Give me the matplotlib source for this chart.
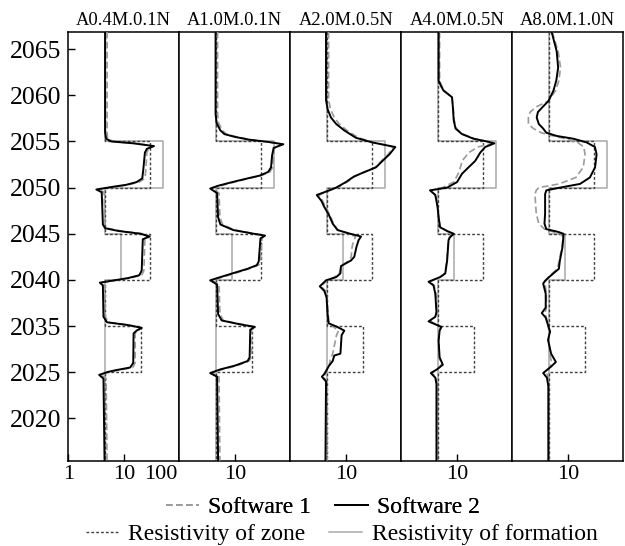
import matplotlib
matplotlib.use("Agg")
import matplotlib.pyplot as plt
import matplotlib.transforms as mtransforms
from matplotlib.lines import Line2D

plt.rcParams['font.family'] = ['Liberation Serif', 'DejaVu Serif']

# ---------------- data ----------------
titles = ["A0.4M.0.1N", "A1.0M.0.1N", "A2.0M.0.5N", "A4.0M.0.5N", "A8.0M.1.0N"]
ytick_pos = [2065, 2060, 2055, 2050, 2045, 2040, 2035, 2030, 2025]
ytick_labels = ["2065", "2060", "2055", "2050", "2045", "2040", "2035", "2025", "2020"]
depth_top = 2066.9
depth_bottom = 2020.4

shoulder_res = 4.5
zone_top = [2055, 2045, 2035]
zone_base = [2050, 2040, 2030]
formation_res = [50, 9, 4.5]
zone_res = [30, 30, 20]

p1_depth = [2066.9, 2056.0, 2055.3, 2055.0, 2054.8, 2054.5, 2054.2, 2053.8, 2052.0, 2051.0,
            2050.6, 2050.3, 2050.1, 2049.8, 2049.5, 2046.0, 2045.6, 2045.3, 2045.0, 2044.7,
            2044.4, 2041.0, 2040.5, 2040.2, 2039.9, 2039.7, 2039.4, 2036.0, 2035.4, 2035.1,
            2034.8, 2034.5, 2034.2, 2031.0, 2030.5, 2030.2, 2030.0, 2029.7, 2029.3, 2020.4]
p1_sw2 = [4.6, 4.6, 4.8, 6.0, 15, 35, 26, 24, 22.5, 21.5,
          17, 11, 6.5, 3.2, 4.0, 4.2, 4.6, 8, 20, 29,
          22, 21, 19, 12, 6, 3.7, 4.2, 4.3, 5, 12,
          21, 17, 15, 14.8, 13, 7, 5, 3.6, 4.3, 4.5]
p1_sw1 = [5.0, 5.0, 5.1, 6.5, 16, 34, 28, 26, 25, 24,
          19, 12, 7, 3.5, 4.4, 4.6, 5.0, 9, 22, 30,
          24, 23, 21, 13, 6.5, 4.0, 4.6, 4.6, 5.4, 12,
          21, 18, 16, 16, 14.5, 8, 5.5, 3.9, 4.8, 5.0]

p2_depth = [2066.9, 2058.0, 2057.0, 2056.2, 2055.8, 2055.5, 2055.2, 2054.95, 2054.7, 2054.3,
            2053.5, 2052.2, 2051.7, 2051.3, 2051.0, 2050.6, 2050.2, 2049.9, 2049.4, 2046.8,
            2046.0, 2045.4, 2045.0, 2044.8, 2044.5, 2042.0, 2041.6, 2041.2, 2040.7, 2040.3,
            2039.95, 2039.5, 2036.3, 2035.6, 2035.2, 2034.9, 2034.6, 2031.6, 2031.2, 2030.7,
            2030.3, 2029.9, 2029.5, 2020.4]
p2_sw2 = [4.5, 4.5, 4.7, 5.5, 6.5, 10, 18, 40, 75, 50,
          47, 45, 40, 28, 17, 9, 5, 3.6, 4.8, 5.0,
          5.5, 9.4, 22, 35, 29, 27, 25, 17, 9, 5.5,
          3.6, 4.8, 5.0, 5.8, 12, 23, 19, 18.5, 17, 10,
          5.5, 3.6, 4.8, 5.0]
p2_sw1 = [4.9, 4.9, 5.1, 6.0, 7.0, 11, 19, 40, 72, 52,
          50, 48, 43, 30, 18, 10, 5.5, 3.9, 5.2, 5.4,
          6.0, 10, 23, 35, 31, 29, 27, 18, 10, 6,
          3.9, 5.2, 5.4, 6.2, 13, 23, 20, 20, 18, 11,
          6, 3.9, 5.2, 5.4]

p3_depth = [2066.9, 2059.5, 2058.5, 2057.6, 2056.9, 2056.2, 2055.4, 2054.9, 2054.6, 2054.4,
            2053.6, 2052.9, 2052.2, 2051.9, 2051.6, 2051.2, 2050.6, 2050.0, 2049.5, 2049.2,
            2048.6, 2047.9, 2047.0, 2046.1, 2045.4, 2045.0, 2044.7, 2044.3, 2043.6, 2042.5,
            2042.1, 2041.5, 2040.7, 2040.3, 2039.95, 2039.3, 2038.8, 2038.1, 2036.3, 2035.3,
            2034.9, 2034.5, 2034.0, 2032.0, 2031.8, 2031.2, 2030.7, 2029.8, 2029.5, 2029.0,
            2020.4]
p3_sw2 = [4.4, 4.4, 4.7, 5.4, 6.7, 9.4, 15.2, 30, 53, 78,
          61, 46, 35, 26.5, 20, 14, 10, 6.7, 4.1, 3.0,
          3.6, 4.1, 5.0, 5.8, 7.1, 12, 18.8, 17, 15.6, 14.2,
          12.4, 8.2, 8.0, 6.7, 4.4, 3.4, 4.1, 4.5, 4.7, 4.9,
          7, 9.4, 8.4, 8.0, 6.2, 5.8, 5.0, 4.1, 3.7, 4.4,
          4.3]
p3_sw1 = [4.9, 4.9, 5.3, 6.2, 7.6, 10.5, 17, 32, 52, 72,
          58, 44, 34, 26, 20, 14.5, 10.5, 7, 4.3, 3.3,
          3.8, 4.3, 5.2, 6.0, 7.2, 11, 15, 14, 13, 12.5,
          11.5, 8.2, 7.6, 6.3, 4.6, 3.6, 4.3, 4.6, 4.8, 5.0,
          6, 7.4, 6.8, 5.8, 5.6, 5.2, 5.0, 4.3, 3.9, 4.6,
          4.6]

p4_depth = [2066.9, 2061.6, 2061.0, 2060.5, 2059.8, 2058.7, 2057.3, 2056.4, 2055.8, 2055.3,
            2055.0, 2054.8, 2054.4, 2053.8, 2052.9, 2052.2, 2051.5, 2050.6, 2050.0, 2049.7,
            2049.2, 2047.9, 2046.8, 2045.7, 2045.3, 2045.0, 2044.6, 2044.3, 2042.1, 2040.7,
            2040.3, 2039.8, 2039.4, 2038.5, 2036.5, 2036.0, 2035.5, 2035.1, 2034.9, 2034.5,
            2033.4, 2031.6, 2030.8, 2030.3, 2029.9, 2029.4, 2028.7, 2020.4]
p4_sw2 = [4.7, 4.7, 5.2, 5.8, 8.2, 8.5, 8.8, 9.5, 12.4, 20,
          35, 47.5, 32.5, 26.5, 21.5, 16.3, 12.4, 10.1, 6.7, 3.3,
          4.1, 4.5, 4.7, 5.0, 6.7, 8.8, 7.5, 7.1, 6.7, 6.2,
          5.0, 3.1, 3.8, 4.1, 4.3, 4.1, 3.1, 4.4, 5.3, 4.9,
          4.7, 4.9, 5.6, 4.4, 3.4, 4.1, 4.3, 4.3]
p4_sw1 = [4.9, 4.9, 5.4, 6.0, 8.2, 8.6, 9.0, 9.8, 13, 21,
          35, 44, 24, 16.5, 12.5, 11.6, 10.6, 8.8, 5.5, 3.3,
          4.1, 4.5, 4.7, 5.0, 6.5, 8.3, 7.3, 7.0, 6.6, 6.1,
          5.0, 3.3, 3.9, 4.2, 4.3, 4.1, 3.4, 4.5, 5.1, 4.9,
          4.7, 4.8, 5.3, 4.4, 3.6, 4.2, 4.4, 4.4]

p5_depth = [2066.9, 2064.8, 2063.0, 2061.6, 2060.5, 2059.4, 2058.8, 2058.2, 2057.6, 2056.9,
            2056.4, 2055.95, 2055.6, 2055.3, 2054.9, 2054.4, 2053.6, 2052.2, 2051.1, 2050.4,
            2050.0, 2049.7, 2049.3, 2047.2, 2046.1, 2045.5, 2045.2, 2045.0, 2044.6, 2043.5,
            2042.1, 2041.2, 2040.4, 2039.9, 2039.6, 2038.5, 2037.0, 2036.4, 2035.9, 2035.1,
            2034.4, 2033.5, 2032.0, 2031.1, 2030.6, 2029.9, 2029.4, 2028.5, 2020.4]
p5_sw2 = [5.1, 6.3, 6.7, 6.2, 5.5, 4.5, 3.6, 2.9, 2.75, 3.0,
          3.6, 4.1, 6.3, 12.6, 21.8, 30.9, 33, 31, 25, 16.6,
          7.2, 4.1, 3.9, 3.9, 3.8, 4.1, 6.7, 8.3, 8.3, 8.0,
          7.2, 6.9, 4.8, 3.9, 3.6, 4.0, 4.0, 3.4, 4.0, 4.4,
          4.8, 4.4, 5.0, 6.1, 5.0, 3.6, 4.2, 4.46, 4.46]
p5_sw1 = [5.2, 6.7, 7.4, 6.9, 6.0, 4.5, 2.8, 2.1, 1.95, 1.95,
          2.4, 3.3, 5.5, 9, 15, 19.5, 20.4, 19, 14, 7,
          3.0, 2.7, 2.56, 2.7, 3.0, 3.8, 5.5, 7.4, 8.3, 7.8,
          7.0, 6.5, 4.6, 4.0, 3.9, 4.1, 4.1, 3.9, 4.1, 4.4,
          4.6, 4.6, 4.7, 5.1, 4.8, 4.2, 4.4, 4.5, 4.5]

depths = [p1_depth, p2_depth, p3_depth, p4_depth, p5_depth]
sw1 = [p1_sw1, p2_sw1, p3_sw1, p4_sw1, p5_sw1]
sw2 = [p1_sw2, p2_sw2, p3_sw2, p4_sw2, p5_sw2]


def step_profile(values):
    d = [depth_top]
    v = [shoulder_res]
    for top, base, val in zip(zone_top, zone_base, values):
        d += [top, top, base, base]
        v += [shoulder_res, val, val, shoulder_res]
    d.append(depth_bottom)
    v.append(shoulder_res)
    return d, v


# ---------------- figure ----------------
W, H = 625, 546
fig = plt.figure(figsize=(W / 100, H / 100), dpi=100)

left_px, panel_px = 68.3, 111.0
top_px, bottom_px = 31.7, 460.7

s1_style = dict(color='#9a9a9a', lw=1.2, ls=(0, (4, 2)))
s2_style = dict(color='black', lw=1.4, ls='-')
zone_style = dict(color='#404040', lw=1.0, ls=(0, (2, 1.5)))
form_style = dict(color='#a8a8a8', lw=1.1, ls='-')

axes = []
for i in range(5):
    ax = fig.add_axes([(left_px + i * panel_px) / W, 1 - bottom_px / H,
                       panel_px / W, (bottom_px - top_px) / H])
    axes.append(ax)
    ax.set_xscale('log')
    ax.set_xlim(1, 100)
    ax.set_ylim(depth_bottom, depth_top)

    fd, fv = step_profile(formation_res)
    zd, zv = step_profile(zone_res)
    ax.plot(fv, fd, zorder=2, **form_style)
    ax.plot(zv, zd, zorder=3, **zone_style)
    ax.plot(sw1[i], depths[i], zorder=4, **s1_style)
    ax.plot(sw2[i], depths[i], zorder=5, **s2_style)

    ax.set_title(titles[i], fontsize=13.3, pad=5)
    for sp in ax.spines.values():
        sp.set_linewidth(1.1)
    ax.minorticks_off()
    ax.tick_params(direction='in', length=5, width=1.0)
    ax.tick_params(axis='x', labelsize=16, pad=3)
    ax.tick_params(axis='y', labelsize=18.5, pad=5)
    if i == 0:
        ax.set_xticks([1, 10, 100])
        ax.set_xticklabels(['1', '10', '100'])
        lbl = ax.get_xticklabels()[2]
        lbl.set_transform(lbl.get_transform() +
                          mtransforms.ScaledTranslation(-0.185, 0, fig.dpi_scale_trans))
        ax.set_yticks(ytick_pos)
        ax.set_yticklabels(ytick_labels)
    else:
        ax.set_xticks([10])
        ax.set_xticklabels(['10'])
        ax.set_yticks([])

h_s1 = Line2D([], [], **s1_style)
h_s2 = Line2D([], [], **s2_style)
h_zone = Line2D([], [], **zone_style)
h_form = Line2D([], [], **form_style)

leg_kw = dict(loc='center', ncol=2, frameon=False, fontsize=17,
              handlelength=1.4, handletextpad=0.4, columnspacing=1.0,
              borderpad=0, borderaxespad=0)
leg1 = fig.legend([h_s1, h_s2], ['Software 1', 'Software 2'],
                  bbox_to_anchor=(323 / W, 1 - 507.5 / H), **leg_kw)
fig.add_artist(leg1)
fig.legend([h_zone, h_form], ['Resistivity of zone', 'Resistivity of formation'],
           bbox_to_anchor=(341.5 / W, 1 - 534 / H), **leg_kw)

fig.savefig('out.png', dpi=100)
